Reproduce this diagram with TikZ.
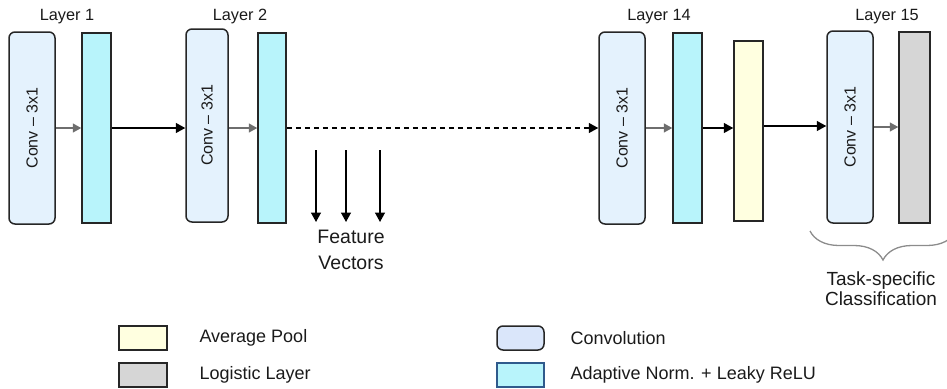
\documentclass[tikz,border=0pt]{standalone}
\usepackage{fontspec}
\setmainfont{Liberation Sans}
\usetikzlibrary{arrows.meta,decorations.pathreplacing}
\definecolor{convfill}{HTML}{E4F2FD}
\definecolor{normfill}{HTML}{B8F4FB}
\definecolor{poolfill}{HTML}{FFFFE0}
\definecolor{logfill}{HTML}{D6D6D6}
\definecolor{legconv}{HTML}{DAE6FA}
\definecolor{arrgray}{HTML}{6E6E6E}
\definecolor{txt}{HTML}{1A1A1A}
\definecolor{bracegray}{HTML}{8C8C8C}
\definecolor{legblue}{HTML}{2F5A8C}
\tikzset{
  blk/.style={draw=black!85, line width=1.5pt, inner sep=0pt},
  convbox/.style={blk, fill=convfill, rounded corners=6pt},
  normbox/.style={blk, fill=normfill},
  poolbox/.style={blk, fill=poolfill},
  logbox/.style={blk, fill=logfill},
  convtext/.style={rotate=90, font=\fontsize{16}{18}\selectfont, text=txt},
  layerlbl/.style={font=\fontsize{16.3}{18}\selectfont, text=txt},
  legtext/.style={anchor=west, font=\fontsize{18}{20}\selectfont, text=txt},
  bigtext/.style={align=center, text=txt},
  grayarr/.style={draw=arrgray, line width=1.4pt, -{Triangle[length=8.5pt,width=9pt]}},
  blackarr/.style={draw=black, line width=1.4pt, -{Triangle[length=9.5pt,width=10pt]}},
}
\begin{document}
\begin{tikzpicture}[x=1pt,y=-1pt]
\useasboundingbox (0,0) rectangle (947,388);
\clip (0,0) rectangle (947,388);
% main boxes
\node[convbox, minimum width=46pt, minimum height=192pt] (c1) at (32,128) {};
\node[convtext] at (c1.center) {Conv – 3x1};
\node[normbox, minimum width=29pt, minimum height=190pt] (n1) at (96.5,128) {};
\node[convbox, minimum width=42pt, minimum height=193pt] (c2) at (207,125.5) {};
\node[convtext] at (c2.center) {Conv – 3x1};
\node[normbox, minimum width=28pt, minimum height=190pt] (n2) at (272,128) {};
\node[convbox, minimum width=46pt, minimum height=192pt] (c14) at (622,128) {};
\node[convtext] at (c14.center) {Conv – 3x1};
\node[normbox, minimum width=29pt, minimum height=190pt] (n14) at (687.5,128) {};
\node[poolbox, minimum width=29pt, minimum height=180pt] (pool) at (748.5,131) {};
\node[convbox, minimum width=46pt, minimum height=192pt] (c15) at (850,127) {};
\node[convtext] at (c15.center) {Conv – 3x1};
\node[logbox, minimum width=31pt, minimum height=191pt] (lg) at (914.5,127.5) {};
% layer labels
\node[layerlbl] (l1) at (67,17) {Layer 1};
\node[layerlbl] (l2) at (240,17) {Layer 2};
\node[layerlbl] (l14) at (659,17) {Layer 14};
\node[layerlbl] (l15) at (887,17) {Layer 15};
% arrows
\draw[grayarr] (c1.east |- 0,128) -- (n1.west |- 0,128);
\draw[blackarr] (n1.east |- 0,128) -- (c2.west |- 0,128);
\draw[grayarr] (c2.east |- 0,128) -- (n2.west |- 0,128);
\draw[blackarr, dash pattern=on 5pt off 4pt] (n2.east |- 0,128) -- (c14.west |- 0,128);
\draw[grayarr] (c14.east |- 0,128) -- (n14.west |- 0,128);
\draw[blackarr] (n14.east |- 0,128) -- (pool.west |- 0,128);
\draw[blackarr] (pool.east |- 0,126) -- (c15.west |- 0,126);
\draw[grayarr] (c15.east |- 0,127) -- (lg.west |- 0,127);
% feature vectors
\coordinate (fa1) at (316,150); \coordinate (fb1) at (316,222);
\coordinate (fa2) at (346,150); \coordinate (fb2) at (346,222);
\coordinate (fa3) at (380,150); \coordinate (fb3) at (380,222);
\draw[blackarr] (fa1) -- (fb1);
\draw[blackarr] (fa2) -- (fb2);
\draw[blackarr] (fa3) -- (fb3);
\node[bigtext, font=\fontsize{19.5}{26}\selectfont] (fv) at (351,250) {Feature\\Vectors};
% brace
\coordinate (br1) at (810,231);
\coordinate (br2) at (956,231);
\draw[draw=bracegray, line width=1.3pt, decorate, decoration={brace, mirror, amplitude=29pt}] (br1) -- (br2);
\node[bigtext, font=\fontsize{19}{20}\selectfont] (ts) at (881,288.5) {Task-specific\\Classification};
% legend
\node[poolbox, minimum width=48pt, minimum height=24pt] (lp) at (143,338) {};
\node[legtext] (lpt) at (196,338) {Average Pool};
\node[logbox, minimum width=48pt, minimum height=24pt] (ll) at (143,375) {};
\node[legtext] (llt) at (196,375) {Logistic Layer};
\node[blk, fill=legconv, rounded corners=6pt, minimum width=47pt, minimum height=24pt] (lc) at (520.5,338) {};
\node[legtext] (lct) at (567,338) {Convolution};
\node[blk, draw=legblue, fill=normfill, minimum width=47pt, minimum height=24pt] (ln) at (520.5,375) {};
\node[legtext] (lnt) at (567,375) {Adaptive Norm. + Leaky ReLU};
\end{tikzpicture}
\end{document}
